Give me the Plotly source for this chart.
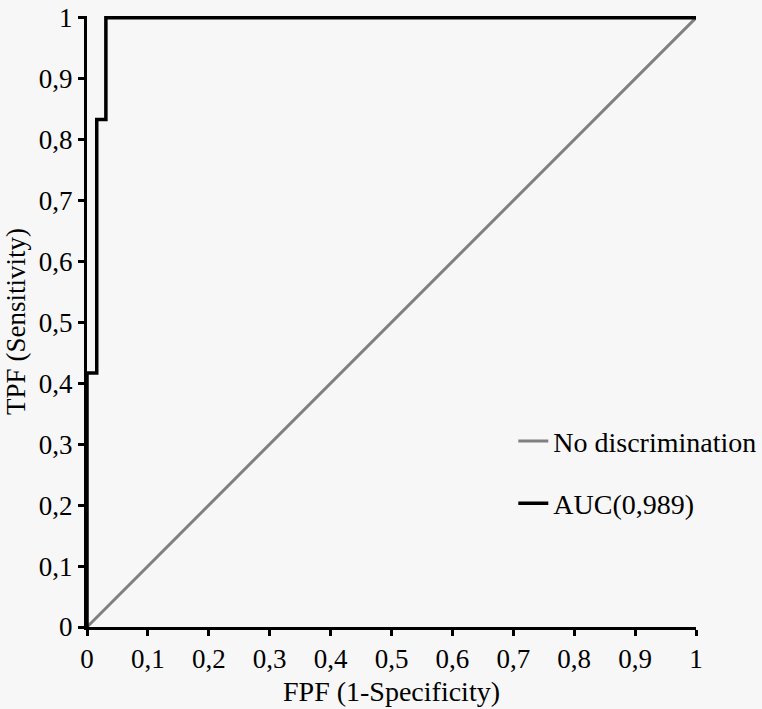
import plotly.graph_objects as go

# Data
diag_x = [0, 1]
diag_y = [0, 1]
roc_fpf = [0, 0, 0.016, 0.016, 0.031, 0.031, 1]
roc_tpf = [0, 0.417, 0.417, 0.833, 0.833, 1, 1]
tick_vals = [0, 0.1, 0.2, 0.3, 0.4, 0.5, 0.6, 0.7, 0.8, 0.9, 1]
tick_text = ["0", "0,1", "0,2", "0,3", "0,4", "0,5", "0,6", "0,7", "0,8", "0,9", "1"]

font = "Liberation Serif, Times New Roman, serif"

fig = go.Figure()
fig.add_trace(go.Scatter(x=diag_x, y=diag_y, mode="lines", name="No discrimination",
                         line=dict(color="#808080", width=3), legendgroup="a"))
fig.add_trace(go.Scatter(x=roc_fpf, y=roc_tpf, mode="lines", name="AUC(0,989)",
                         line=dict(color="#000000", width=3.5), legendgroup="b"))

axis_common = dict(
    tickvals=tick_vals, ticktext=tick_text, automargin=False,
    showgrid=False, zeroline=False, showline=True, linecolor="black", linewidth=3,
    ticks="outside", ticklen=6, tickwidth=3, tickcolor="black",
    tickfont=dict(family=font, size=27, color="black"),
)

fig.update_layout(
    width=762, height=709,
    margin=dict(l=87, r=66, t=16, b=82, autoexpand=False),
    paper_bgcolor="#f7f7f7", plot_bgcolor="#f7f7f7",
    font=dict(family=font, color="black"),
    xaxis=dict(**axis_common, range=[0, 1],
               title=dict(text="FPF (1-Specificity)", font=dict(family=font, size=28), standoff=8)),
    yaxis=dict(**axis_common, range=[0, 1.003],
               title=dict(text="TPF (Sensitivity)", font=dict(family=font, size=27), standoff=6)),
    showlegend=True,
    legend=dict(x=0.70, y=0.345, xanchor="left", yanchor="top", bgcolor="rgba(0,0,0,0)",
                font=dict(family=font, size=28, color="black"), tracegroupgap=23,
                itemwidth=30),
)

fig.write_html("out.html")
